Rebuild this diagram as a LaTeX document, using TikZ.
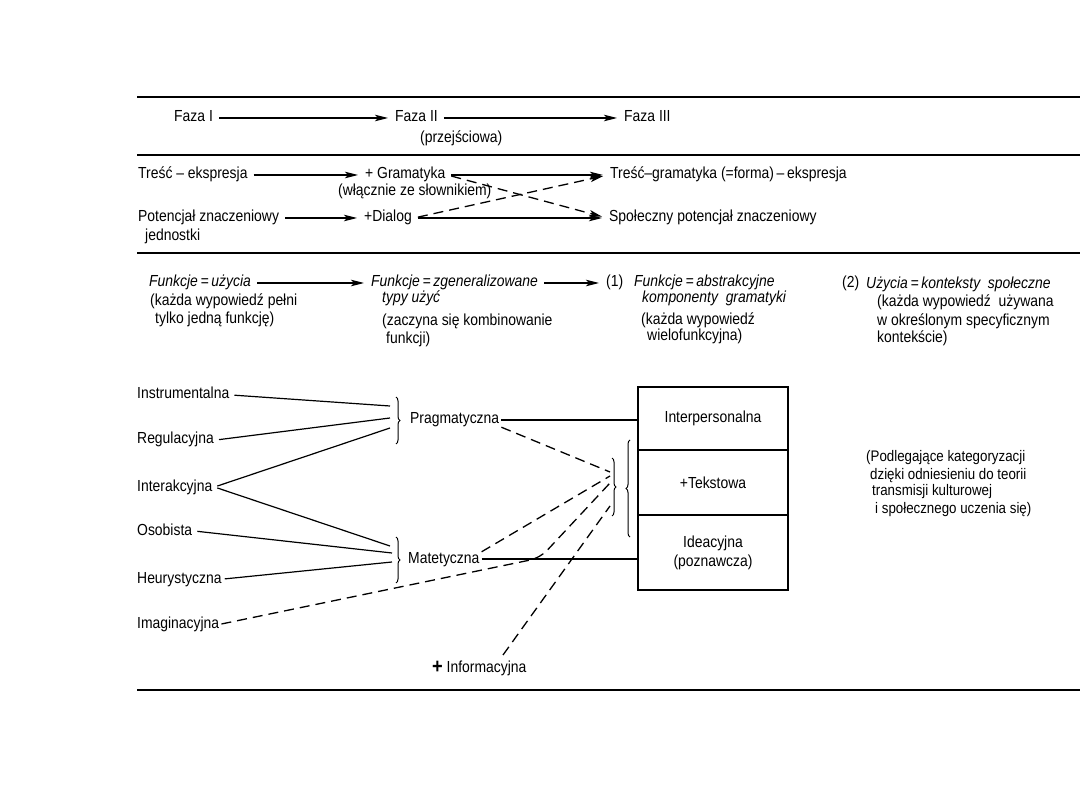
\documentclass[tikz,border=0pt]{standalone}
\usepackage{fontspec}
\setmainfont{Liberation Sans}[FakeStretch=0.87]
\usetikzlibrary{arrows.meta,decorations.pathreplacing}
\begin{document}
\begin{tikzpicture}[x=1pt,y=-1pt,
 t/.style={font=\fontsize{16}{18}\selectfont, inner xsep=2pt, inner ysep=0pt, text height=11pt, text depth=3pt, anchor=west},
 ti/.style={t, font=\fontsize{16}{18}\selectfont\itshape},
 ts/.style={t, font=\fontsize{15.3}{17}\selectfont},
 ar/.style={-{Stealth[length=13pt,width=6.5pt,inset=3pt]}, line width=1.1pt, shorten <=4pt, shorten >=5pt},
 ln/.style={line width=1.2pt},
 dsh/.style={line width=1.3pt, dash pattern=on 10pt off 6pt},
 rule/.style={line width=2.8pt},
 br/.style={decorate, decoration={brace, amplitude=4pt}, line width=1pt},
 box/.style={draw, line width=1.4pt, minimum width=150pt, align=center, font=\fontsize{16}{19}\selectfont, inner sep=0pt}]
\useasboundingbox (0,0) rectangle (1080,810);
% rules
\draw[rule] (137,97) -- (1080,97);
\draw[rule] (137,155) -- (1080,155);
\draw[rule] (137,253) -- (1080,253);
\draw[rule] (137,690) -- (1080,690);
% row 1
\node[t] (f1) at (172,118) {Faza I};
\node[t] (f2) at (393,118) {Faza II};
\node[t] (f3) at (622,118) {Faza III};
\node[t] (prz) at (418,139) {(przejściowa)};
\draw[ar] (f1) -- (f2);
\draw[ar] (f2) -- (f3);
% row 2
\node[t] (tre) at (136,175) {Treść – ekspresja};
\node[t] (gram) at (363,175) {+ Gramatyka};
\node[t] (wl) at (336,192) {(włącznie ze słownikiem)};
\node[t] (tgf) at (608,175) {Treść–gramatyka (=forma)\,–\,ekspresja};
\node[t] (pot) at (136,218) {Potencjał znaczeniowy};
\node[t] (jed) at (143,237) {jednostki};
\node[t] (dial) at (362,218) {+Dialog};
\node[t] (spo) at (607,218) {Społeczny potencjał znaczeniowy};
\draw[ar] (tre) -- (gram);
\draw[ar] (gram) -- (tgf);
\draw[ar] (pot) -- (dial);
\draw[ar] (dial) -- (spo);
\draw[ar,dsh] (gram.east) -- (spo.west);
\draw[ar,dsh] (dial.east) -- (tgf.west);
% row 4
\node[ti] (fu) at (147,283) {Funkcje\,=\,użycia};
\node[t] (fu1) at (148,302) {(każda wypowiedź pełni};
\node[t] (fu2) at (153,320) {tylko jedną funkcję)};
\node[ti] (fz) at (369,283) {Funkcje\,=\,zgeneralizowane};
\node[ti] (fz1) at (380,299) {typy użyć};
\node[t] (fz2) at (380,322) {(zaczyna się kombinowanie};
\node[t] (fz3) at (384,340) {funkcji)};
\node[t] (n1) at (604,283) {(1)};
\node[ti] (fa) at (632,283) {Funkcje\,=\,abstrakcyjne};
\node[ti] (fa1) at (640,299) {komponenty \ gramatyki};
\node[t] (fa2) at (639,321) {(każda wypowiedź};
\node[t] (fa3) at (645,337) {wielofunkcyjna)};
\node[t] (n2) at (840,284) {(2)};
\node[ti] (uz) at (864,285) {Użycia\,=\,konteksty \ społeczne};
\node[t] (uz1) at (875,303) {(każda wypowiedź \ używana};
\node[t] (uz2) at (875,322) {w określonym specyficznym};
\node[t] (uz3) at (875,339) {kontekście)};
\draw[ar] (fu) -- (fz);
\draw[ar] (fz) -- (n1);
% lower section
\node[t] (ins) at (135,395) {Instrumentalna};
\node[t] (reg) at (135,440) {Regulacyjna};
\node[t] (int) at (135,487) {Interakcyjna};
\node[t] (oso) at (135,531) {Osobista};
\node[t] (heu) at (135,579) {Heurystyczna};
\node[t] (ima) at (135,624) {Imaginacyjna};
\node[t] (pra) at (408,420) {Pragmatyczna};
\node[t] (mat) at (406,559) {Matetyczna};
\node[t] (inf) at (430,668) {\raisebox{-1pt}{\fontsize{21}{21}\selectfont\bfseries +} Informacyjna};
\draw[br] (396,397) -- (396,444);
\draw[br] (396,537) -- (396,583);
\coordinate (p1) at (390,406);
\coordinate (p2) at (390,418);
\coordinate (p3) at (390,428);
\coordinate (m1) at (390,546);
\coordinate (m2) at (392,553);
\coordinate (m3) at (392,562);
\draw[ln, shorten <=3pt] (ins.east) -- (p1);
\draw[ln, shorten <=3pt] (reg.east) -- (p2);
\draw[ln, shorten <=3pt] (int.east) -- (p3);
\draw[ln, shorten <=3pt] (int.east) -- (m1);
\draw[ln, shorten <=3pt] (oso.east) -- (m2);
\draw[ln, shorten <=1pt] (heu.east) -- (m3);
% box
\node[box, minimum height=63pt] (ip) at (713,418.5) {Interpersonalna};
\node[box, minimum height=65pt] (tk) at (713,482.5) {+Tekstowa};
\node[box, minimum height=75pt] (id) at (713,552.5) {Ideacyjna\\(poznawcza)};
\draw[ln] (pra.east) -- (pra -| ip.west);
\draw[ln] (mat.east) -- (mat -| id.west);
\draw[br] (630,537) -- (630,440);
\draw[br] (612,458) -- (612,516);
\coordinate (c1) at (610,472);
\coordinate (c2) at (610,476);
\coordinate (c3) at (610,483);
\coordinate (c4) at (610,506);
\coordinate (it) at (503,655);
\draw[dsh] (pra.south east) -- (c1);
\draw[dsh] (mat.north east) -- (c2);
\draw[dsh, rounded corners=10pt] (ima.east) -- (540,558) -- (c3);
\draw[dsh] (it) -- (c4);
% right paragraph
\node[ts] (r1) at (864,458) {(Podlegające kategoryzacji};
\node[ts] (r2) at (868,475) {dzięki odniesieniu do teorii};
\node[ts] (r3) at (870,492) {transmisji kulturowej};
\node[ts] (r4) at (873,509) {i społecznego uczenia się)};
\end{tikzpicture}
\end{document}
